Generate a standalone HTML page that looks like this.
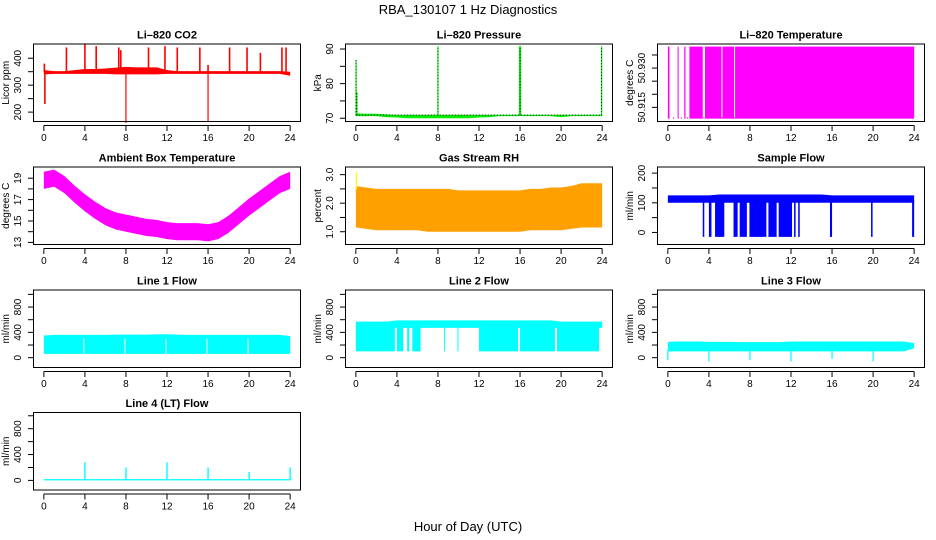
<!DOCTYPE html>
<html><head><meta charset="utf-8"><style>
html,body{margin:0;padding:0;background:#fff;}
svg{display:block;font-family:"Liberation Sans",sans-serif;}
</style></head><body>
<svg id="chart" width="936" height="540" viewBox="0 0 936 540" xmlns="http://www.w3.org/2000/svg">
<text x="468" y="14" text-anchor="middle" font-size="13">RBA_130107  1 Hz Diagnostics</text>
<text x="468" y="531" text-anchor="middle" font-size="13">Hour of Day (UTC)</text>
</svg>
<script>
// ---- data ----
const hours = [0,1,2,3,4,5,6,7,8,9,10,11,12,13,14,15,16,17,18,19,20,21,22,23,24];
const xTicks = [0,4,8,12,16,20,24];
// CO2
const co2Lo = [340,342,342,342,342,342,342,340,340,340,340,340,342,342,342,342,342,342,342,342,342,342,342,342,335];
const co2Hi = [356,352,352,356,360,360,362,365,368,366,366,366,356,352,352,352,352,352,352,352,352,352,352,352,350];
const co2SpikeH = [0.05,0.1,2.2,4.0,5.1,7.3,7.5,10.2,11.8,13.0,15.2,16.0,18.1,19.8,21.1,23.2,23.6];
const co2SpikeV = [380,230,440,455,445,440,430,440,445,440,440,375,440,440,420,440,440];
const co2DipH = [8.0,16.0];
const co2DipV = [160,165];
// Pressure
const presLo = [70.6,70.6,70.6,70.3,70.2,70.0,70.0,70.0,70.0,70.0,70.0,70.0,70.2,70.3,70.6,70.6,70.6,70.6,70.6,70.6,70.3,70.6,70.6,70.6,70.6];
const presHi = [71.4,71.3,71.3,71.1,71.0,71.0,71.0,71.0,71.0,71.0,71.0,71.0,71.0,71.0,71.0,71.0,71.0,71.0,71.0,71.0,71.0,71.0,71.0,71.0,71.0];
const presSpikeH = [0.02,0.1,8.0,16.0,23.95];
const presSpikeV = [86.8,77.5,90.8,90.8,90.8];
// Li-820 temperature (on/off toggling between two levels)
const ltempLevels = [50.9107,50.9382];
const ltempGapStart = [0.15,1.05,1.72,3.4,5.22,6.45];
const ltempGapEnd = [0.95,1.6,2.1,3.62,5.32,6.55];
// Ambient box temperature
const ambMid = [18.8,19.0,18.4,17.5,16.7,16.0,15.4,15.0,14.8,14.6,14.4,14.3,14.1,14.0,14.0,14.0,13.9,14.1,14.7,15.5,16.3,17.0,17.7,18.4,18.8];
const ambHalf = 0.8;
// Gas stream RH
const rhLo = [1.15,1.1,1.05,1.05,1.05,1.05,1.05,1.0,1.0,1.0,1.0,1.0,1.0,1.0,1.0,1.0,1.0,1.05,1.05,1.05,1.05,1.1,1.15,1.15,1.15];
const rhHi = [2.6,2.55,2.5,2.5,2.5,2.5,2.5,2.5,2.5,2.5,2.45,2.45,2.45,2.45,2.45,2.45,2.45,2.5,2.5,2.55,2.55,2.6,2.7,2.7,2.7];
// Sample flow
const sfLo = [100,100,100,100,100,100,100,100,100,100,100,100,100,100,100,100,100,100,100,100,100,100,100,100,100];
const sfHi = [125,125,125,125,125,128,128,128,128,128,128,128,128,128,128,128,125,125,125,125,125,125,125,125,125];
const sfDropStart = [3.4,4.0,4.6,6.4,7.0,7.95,9.8,10.8,12.3,12.7,15.8,19.8,23.8];
const sfDropEnd = [3.55,4.25,5.5,6.8,7.7,9.6,10.6,12.1,12.45,12.85,16.0,19.95,24.0];
const sfDropMin = -15;
// Line 1 flow
const l1Lo = [60,60,60,60,60,60,60,60,60,60,60,60,60,60,60,60,60,60,60,60,60,60,60,60,60];
const l1Hi = [350,360,360,360,360,360,360,365,365,365,365,370,370,365,360,360,360,360,360,360,360,360,360,360,340];
const l1Gaps = [4,8,12,16,20];
// Line 2 flow
const l2TopLo = [470,470,470,470,470,470,470,470,470,470,470,470,470,470,470,470,470,470,470,470,470,470,470,470,470];
const l2TopHi = [570,570,570,570,590,590,590,590,590,590,590,590,590,590,590,590,590,590,590,590,570,570,570,570,570];
const l2LowStart = [0.0,4.0,5.0,5.5,8.6,9.9,12.0,16.0,19.6];
const l2LowEnd = [3.8,4.6,5.2,6.3,8.7,10.0,15.8,19.4,23.7];
const l2LowMin = 100;
// Line 3 flow
const l3Lo = [100,100,100,100,100,100,100,100,100,100,100,100,100,100,100,100,100,100,100,100,100,100,100,100,150];
const l3Hi = [250,255,255,255,250,250,250,245,245,245,245,245,255,255,255,255,255,255,255,255,255,255,255,255,230];
const l3DipH = [0.0,4.0,8.0,12.0,16.0,20.0];
const l3DipV = [-40,-60,-40,-60,-20,-60];
// Line 4 flow
const l4Lo = 0;
const l4Hi = 20;
const l4SpikeH = [4.0,8.0,12.0,16.0,20.0,24.0];
const l4SpikeV = [280,200,280,200,130,200];

// ---- drawing ----
const svg = document.getElementById('chart');
const NS = 'http://www.w3.org/2000/svg';
function mk(tag, attrs, parent){
  const e = document.createElementNS(NS, tag);
  for (const k in attrs) e.setAttribute(k, attrs[k]);
  (parent||svg).appendChild(e);
  return e;
}
const colX = [34,346,658], boxW = 266;
const rowY = [44.5,167.5,290.5,413], boxH = 76.5;

function makePanel(col,row,ylim,title,ylab,yticks,ylabels,name){
  const L = colX[col], T = rowY[row], R = L+boxW, B = T+boxH;
  const g = mk('g',{});
  
  
  const xs = h => L + boxW*(h+0.96)/25.92;
  const ys = v => B - boxH*(v-ylim[0])/(ylim[1]-ylim[0]);
  const plot = mk('g',{},g);
  
  
  const t = mk('text',{x:(L+R)/2,y:T-6,'text-anchor':'middle','font-size':11,'font-weight':'bold'},g);
  t.textContent = title;
  
  
  const xa = mk('g',{stroke:'#000','stroke-width':1,fill:'none'},g);
  
  
  mk('line',{x1:xs(xTicks[0]),x2:xs(xTicks[xTicks.length-1]),y1:B+4.5,y2:B+4.5},xa);
  xTicks.forEach(h=>{
    mk('line',{x1:xs(h),x2:xs(h),y1:B+4.5,y2:B+10},xa);
    const lt = mk('text',{x:xs(h),y:B+20,'text-anchor':'middle','font-size':10,stroke:'none',fill:'#000'},g);
    lt.textContent = h;
    
    
  });
  const ya = mk('g',{stroke:'#000','stroke-width':1,fill:'none'},g);
  
  
  mk('line',{x1:L-0.5,x2:L-0.5,y1:ys(yticks[0]),y2:ys(yticks[yticks.length-1])},ya);
  yticks.forEach(v=>mk('line',{x1:L-6,x2:L-0.5,y1:ys(v),y2:ys(v)},ya));
  ylabels.forEach(v=>{
    const y = ys(parseFloat(v));
    const lt = mk('text',{x:L-13,y:y,'text-anchor':'middle','font-size':10,transform:`rotate(-90 ${L-13} ${y})`},g);
    lt.textContent = v;
    
    
  });
  const yt = mk('text',{x:L-25,y:(T+B)/2,'text-anchor':'middle','font-size':10,transform:`rotate(-90 ${L-25} ${(T+B)/2})`},g);
  yt.textContent = ylab;
  
  
  const box = mk('rect',{x:L-0.5,y:T-0.5,width:boxW+1,height:boxH+1,fill:'none',stroke:'#000','stroke-width':1},g);
  
  
  return {xs,ys,plot,box,g};
}
function band(p,lo,hi,color){
  let pts=[];
  hours.forEach((h,i)=>pts.push(p.xs(h)+','+p.ys(hi[i])));
  for(let i=hours.length-1;i>=0;i--) pts.push(p.xs(hours[i])+','+p.ys(lo[i]));
  const e = mk('polygon',{points:pts.join(' '),fill:color},p.plot);
  
  
  return e;
}
function vline(p,h,v0,v1,color,w){
  const e = mk('line',{x1:p.xs(h),x2:p.xs(h),y1:p.ys(v0),y2:p.ys(v1),stroke:color,'stroke-width':w||1.2},p.plot);
  
  
  return e;
}
function blk(p,h0,h1,v0,v1,color){
  const e = mk('rect',{x:p.xs(h0),y:p.ys(v1),width:Math.max(1,p.xs(h1)-p.xs(h0)),height:p.ys(v0)-p.ys(v1),fill:color},p.plot);
  
  
  return e;
}

// CO2
let p = makePanel(0,0,[167,451],'Li–820 CO2','Licor ppm',[200,250,300,350,400],['200','300','400'],'co2');
band(p,co2Lo,co2Hi,'#ff0000');
co2SpikeH.forEach((h,i)=>vline(p,h,350,co2SpikeV[i],'#ff0000',1.6));
co2DipH.forEach((h,i)=>vline(p,h,350,co2DipV[i],'#ff0000',1.2));

// Pressure
p = makePanel(1,0,[69.2,91.3],'Li–820 Pressure','kPa',[70,75,80,85,90],['70','80','90'],'pressure');
band(p,presLo,presHi,'#00ee00');
mk('line',{x1:p.xs(0),x2:p.xs(24),y1:p.ys(70.9),y2:p.ys(70.9),stroke:'#000','stroke-dasharray':'1,2','stroke-width':1},p.plot);
presSpikeH.forEach((h,i)=>{ vline(p,h,70.9,presSpikeV[i],'#00ee00',h===16?2.2:1.2); vline(p,h,70.9,presSpikeV[i],'#000',0.8).setAttribute('stroke-dasharray','1,2'); });

// Li-820 temperature
p = makePanel(2,0,[50.9098,50.9390],'Li–820 Temperature','degrees C',[50.915,50.920,50.925,50.930,50.935],['50.915','50.930'],'licor-temp');
{
  let segs=[]; let s=0;
  ltempGapStart.forEach((g,i)=>{ segs.push([s,g]); s=ltempGapEnd[i]; });
  segs.push([s,24]);
  segs.forEach(sg=>blk(p,sg[0],sg[1],ltempLevels[0],ltempLevels[1],'#ff00ff'));
  ltempGapStart.forEach((g,i)=>vline(p,(g+ltempGapEnd[i])/2,ltempLevels[0],ltempLevels[0]+0.0005,'#ff00ff',1));
  vline(p,0.1,ltempLevels[0],ltempLevels[1],'#ff00ff',1);
}

// Ambient box temperature
p = makePanel(0,1,[12.85,20.0],'Ambient Box Temperature','degrees C',[13,14,15,16,17,18,19],['13','15','17','19'],'ambient-temp');
band(p,ambMid.map(v=>v-ambHalf),ambMid.map(v=>v+ambHalf),'#ff00ff');

// RH
p = makePanel(1,1,[0.57,3.25],'Gas Stream RH','percent',[1.0,1.5,2.0,2.5,3.0],['1.0','2.0','3.0'],'rh');
band(p,rhLo,rhHi,'#ffa000');
vline(p,0.05,2.5,3.1,'#ffff00',1.2);

// Sample flow
p = makePanel(2,1,[-39,219],'Sample Flow','ml/min',[0,50,100,150,200],['0','100','200'],'sample-flow');
band(p,sfLo,sfHi,'#0000ff');
sfDropStart.forEach((h,i)=>blk(p,h,sfDropEnd[i],sfDropMin,110,'#0000ff'));

// Line 1
p = makePanel(0,2,[-147,1061],'Line 1 Flow','ml/min',[0,200,400,600,800,1000],['0','400','800'],'line1-flow');
band(p,l1Lo,l1Hi,'#00ffff');
l1Gaps.forEach(h=>vline(p,h-0.1,60,300,'#ffffff',1));

// Line 2
p = makePanel(1,2,[-147,1061],'Line 2 Flow','ml/min',[0,200,400,600,800,1000],['0','400','800'],'line2-flow');
band(p,l2TopLo,l2TopHi,'#00ffff');
l2LowStart.forEach((h,i)=>blk(p,h,l2LowEnd[i],l2LowMin,480,'#00ffff'));

// Line 3
p = makePanel(2,2,[-147,1061],'Line 3 Flow','ml/min',[0,200,400,600,800,1000],['0','400','800'],'line3-flow');
band(p,l3Lo,l3Hi,'#00ffff');
l3DipH.forEach((h,i)=>vline(p,h,120,l3DipV[i],'#00ffff',1.2));

// Line 4
p = makePanel(0,3,[-141,1043],'Line 4 (LT) Flow','ml/min',[0,200,400,600,800,1000],['0','400','800'],'line4-flow');
blk(p,0,24,l4Lo,l4Hi,'#00ffff');
l4SpikeH.forEach((h,i)=>vline(p,h,0,l4SpikeV[i],'#00ffff',1.4));
</script>
</body></html>
